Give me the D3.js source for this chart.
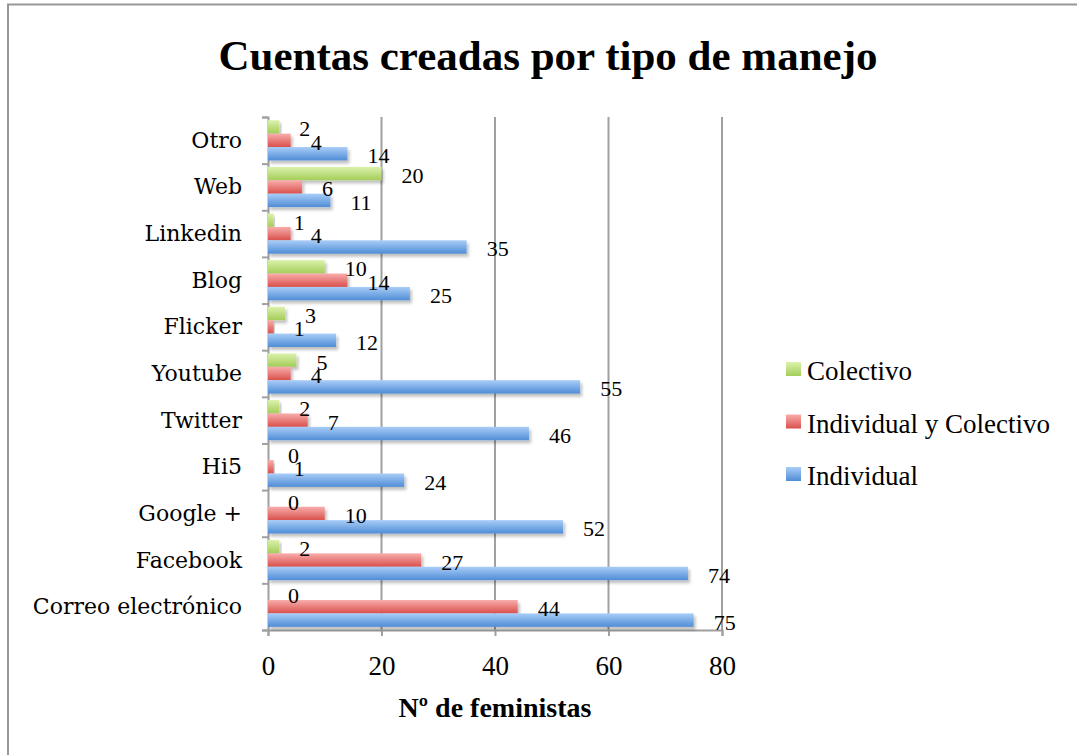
<!DOCTYPE html>
<html>
<head>
<meta charset="utf-8">
<script src="https://cdn.jsdelivr.net/npm/d3@7"></script>
<style>
  body { margin: 0; background: #fff; }
  text { font-family: "Liberation Serif", serif; fill: #000; }
</style>
</head>
<body>
<div id="container"></div>
<script>
const W = 1077;
const H = 755;

// data, top to bottom as drawn
const categories = ["Otro", "Web", "Linkedin", "Blog", "Flicker", "Youtube",
  "Twitter", "Hi5", "Google +", "Facebook", "Correo electrónico"];
const colectivo = [2, 20, 1, 10, 3, 5, 2, 0, 0, 2, 0];
const indivColectivo = [4, 6, 4, 14, 1, 4, 7, 1, 10, 27, 44];
const individual = [14, 11, 35, 25, 12, 55, 46, 24, 52, 74, 75];
const seriesNames = ["Colectivo", "Individual y Colectivo", "Individual"];
const xTicks = [0, 20, 40, 60, 80];

const series = [
  { name: seriesNames[0], values: colectivo, top: "#dcf2ad", bottom: "#a3cd58" },
  { name: seriesNames[1], values: indivColectivo, top: "#f8aeac", bottom: "#d9504c" },
  { name: seriesNames[2], values: individual, top: "#a9cdf8", bottom: "#4f8dd6" }
];

const LEFT = 268, RIGHT = 722, TOP = 117, BOTTOM = 630;

const svg = d3.select("#container")
  .append("svg")
  .attr("width", W)
  .attr("height", H);

svg.append("rect").attr("width", W).attr("height", H).attr("fill", "#fff");

const defs = svg.append("defs");
series.forEach((s, i) => {
  const g = defs.append("linearGradient")
    .attr("id", "grad" + i)
    .attr("x1", 0).attr("y1", 0).attr("x2", 0).attr("y2", 1);
  g.append("stop").attr("offset", "0%").attr("stop-color", s.top);
  g.append("stop").attr("offset", "100%").attr("stop-color", s.bottom);
});
const shadow = defs.append("filter").attr("id", "shadow")
  .attr("x", "-10%").attr("y", "-30%").attr("width", "130%").attr("height", "180%");
shadow.append("feDropShadow")
  .attr("dx", 2).attr("dy", 3).attr("stdDeviation", 1.8)
  .attr("flood-color", "#000").attr("flood-opacity", 0.25);

// outer frame
svg.append("path")
  .attr("d", `M8,${H} V4.5 H${W}`)
  .attr("fill", "none")
  .attr("stroke", "#979797")
  .attr("stroke-width", 2);

// title
svg.append("text")
  .attr("x", 548)
  .attr("y", 70)
  .attr("text-anchor", "middle")
  .style("font-size", "43px")
  .style("font-weight", "bold")
  .text("Cuentas creadas por tipo de manejo");

const xScale = d3.scaleLinear().domain([0, 80]).range([LEFT, RIGHT]);
const yScale = d3.scaleBand().domain(categories).range([TOP, BOTTOM]).padding(0);
const ySub = d3.scaleBand()
  .domain(d3.range(series.length))
  .range([0, yScale.bandwidth()])
  .paddingInner(0)
  .paddingOuter(0.24);
const yIdx = d3.scaleLinear().domain([0, categories.length]).range([TOP, BOTTOM]);

// gridlines
svg.append("g")
  .selectAll("line")
  .data(xTicks.filter(d => d > 0))
  .enter()
  .append("line")
  .attr("x1", d => xScale(d))
  .attr("x2", d => xScale(d))
  .attr("y1", TOP)
  .attr("y2", BOTTOM)
  .attr("stroke", "#a0a0a0")
  .attr("stroke-width", 2);

// x axis
const xAxis = svg.append("g")
  .attr("transform", `translate(0,${BOTTOM})`)
  .call(d3.axisBottom(xScale).tickValues(xTicks).tickSize(6).tickPadding(20));
xAxis.selectAll("line, path").attr("stroke", "#a0a0a0").attr("stroke-width", 2);
xAxis.selectAll("text").style("font-size", "27px").style("font-family", "Liberation Serif");

// y axis: ticks at category boundaries
const yAxis = svg.append("g")
  .attr("transform", `translate(${LEFT},0)`)
  .call(d3.axisLeft(yIdx).ticks(categories.length).tickFormat("").tickSize(6));
yAxis.selectAll("line, path").attr("stroke", "#a0a0a0").attr("stroke-width", 2);

// category labels
svg.append("g")
  .selectAll("text")
  .data(categories)
  .enter()
  .append("text")
  .attr("x", 242)
  .attr("y", d => yScale(d) + yScale.bandwidth() / 2)
  .attr("text-anchor", "end")
  .attr("dominant-baseline", "central")
  .style("font-family", "DejaVu Serif")
  .style("font-size", "22px")
  .text(d => d);

// bars
series.forEach((s, i) => {
  svg.append("g")
    .selectAll("rect")
    .data(s.values)
    .enter()
    .append("rect")
    .attr("x", xScale(0))
    .attr("y", (d, j) => yScale(categories[j]) + ySub(i))
    .attr("width", d => xScale(d) - xScale(0))
    .attr("height", ySub.bandwidth())
    .attr("fill", `url(#grad${i})`)
    .attr("filter", d => (d > 0 ? "url(#shadow)" : null));
});

// value labels
series.forEach((s, i) => {
  svg.append("g")
    .selectAll("text")
    .data(s.values)
    .enter()
    .append("text")
    .attr("x", d => xScale(d) + 20)
    .attr("y", (d, j) => yScale(categories[j]) + ySub(i) + ySub.bandwidth() / 2 + 2)
    .attr("dominant-baseline", "central")
    .style("font-size", "22px")
    .text(d => d);
});

// x axis title
svg.append("text")
  .attr("x", 495)
  .attr("y", 717)
  .attr("text-anchor", "middle")
  .style("font-size", "28px")
  .style("font-weight", "bold")
  .text("Nº de feministas");

// legend
const legend = svg.append("g").attr("class", "legend");
series.forEach((s, i) => {
  const y = 362 + i * 52.5;
  legend.append("rect")
    .attr("x", 786)
    .attr("y", y)
    .attr("width", 15)
    .attr("height", 14)
    .attr("fill", `url(#grad${i})`);
  legend.append("text")
    .attr("x", 807)
    .attr("y", y + 18)
    .style("font-size", "27px")
    .text(s.name);
});
</script>
</body>
</html>
